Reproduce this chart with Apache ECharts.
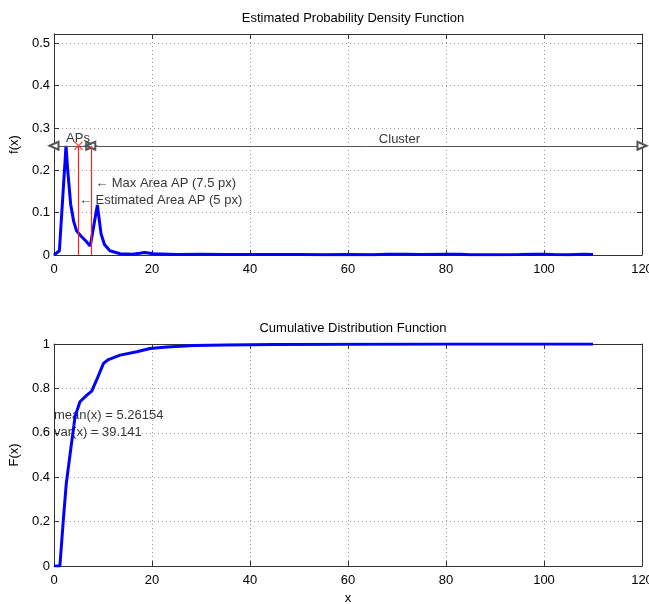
<!DOCTYPE html>
<html>
<head>
<meta charset="utf-8">
<script src="https://cdn.jsdelivr.net/npm/echarts@6/dist/echarts.min.js"></script>
<style>
  html, body { margin: 0; padding: 0; background: #fff; }
  #chart { width: 649px; height: 604px; }
</style>
</head>
<body>
<div id="chart"></div>
<script>
// estimated pdf
const pdfX = [0, 1.1, 2.45, 2.8, 3.4, 4.0, 4.6, 5.5, 6.5, 7.4, 8.85, 9.6, 10.3, 11.4, 13.5, 16, 17.5, 18.5, 20.3, 25, 30, 35, 40, 45, 50, 55, 60, 65, 68, 72, 75, 80, 83, 85, 90, 95, 98, 100, 102, 105, 108, 110]
const pdfY = [0, 0.01, 0.258, 0.2, 0.12, 0.08, 0.057, 0.045, 0.033, 0.021, 0.118, 0.05, 0.025, 0.01, 0.003, 0.002, 0.004, 0.006, 0.003, 0.001, 0.0015, 0.001, 0.001, 0.001, 0.001, 0.0005, 0.001, 0.0005, 0.002, 0.002, 0.001, 0.002, 0.002, 0.0005, 0.0005, 0.001, 0.002, 0.002, 0.001, 0.0005, 0.002, 0.001]

// cumulative distribution
const cdfX = [0, 1.2, 1.9, 2.5, 3.3, 4.3, 5.3, 6.7, 7.7, 8.7, 10.1, 11.1, 13.5, 16.9, 19.6, 23, 28.7, 35, 45, 60, 80, 110]
const cdfY = [0, 0, 0.207, 0.37, 0.507, 0.673, 0.74, 0.77, 0.788, 0.838, 0.913, 0.93, 0.95, 0.965, 0.98, 0.987, 0.993, 0.996, 0.998, 0.999, 1, 1]

// annotations
const apLevel = 0.258
const apMarks = [5, 7.5]
const spans = [[0, 7.5], [7.5, 120]]
const pdfNotes = ['\u2190 Max Area AP (7.5 px)', '\u2190 Estimated Area AP (5 px)']
const pdfNoteX = [8.4, 5.1]
const pdfNoteY = [0.168, 0.128]
const spanNames = ['APs', 'Cluster']
const spanNameX = [4.9, 70.5]
const spanNameY = [0.276, 0.273]
const cdfNotes = ['mean(x) = 5.26154', 'var(x) = 39.141']
const cdfNoteX = [0, 0]
const cdfNoteY = [0.68, 0.6]

const xTicks = [0, 20, 40, 60, 80, 100, 120]

const FONT = "'Liberation Sans', Arial, sans-serif"
const BOX = '#333'
const gridLine = { show: true, lineStyle: { color: '#999', type: [1, 3], width: 1 } }

function mainX(grid, name) {
  return {
    type: 'value', gridIndex: grid, min: xTicks[0], max: xTicks[xTicks.length - 1], interval: 20,
    name: name, nameLocation: 'middle', nameGap: 26,
    nameTextStyle: { color: '#000', fontSize: 13, fontFamily: FONT },
    axisLine: { show: true, onZero: false, lineStyle: { color: BOX } },
    axisTick: { show: true, inside: true, length: 5, lineStyle: { color: BOX } },
    axisLabel: { color: '#000', fontSize: 13, fontFamily: FONT, margin: 8 },
    splitLine: gridLine
  }
}
function boxX(grid) {
  return {
    type: 'value', gridIndex: grid, position: 'top', min: 0, max: 120, interval: 20,
    axisLine: { show: true, onZero: false, lineStyle: { color: BOX } },
    axisTick: { show: true, inside: true, length: 5, lineStyle: { color: BOX } },
    axisLabel: { show: false }, splitLine: { show: false }
  }
}
function mainY(grid, max, interval, name) {
  return {
    type: 'value', gridIndex: grid, min: 0, max: max, interval: interval,
    name: name, nameLocation: 'middle', nameGap: 24,
    nameTextStyle: { color: '#000', fontSize: 13, fontFamily: FONT },
    axisLine: { show: true, onZero: false, lineStyle: { color: BOX } },
    axisTick: { show: true, inside: true, length: 5, lineStyle: { color: BOX } },
    axisLabel: { color: '#000', fontSize: 13, fontFamily: FONT, margin: 4, showMaxLabel: max === 1 },
    splitLine: gridLine
  }
}
function boxY(grid, max, interval) {
  return {
    type: 'value', gridIndex: grid, position: 'right', min: 0, max: max, interval: interval,
    axisLine: { show: true, onZero: false, lineStyle: { color: BOX } },
    axisTick: { show: true, inside: true, length: 5, lineStyle: { color: BOX } },
    axisLabel: { show: false }, splitLine: { show: false }
  }
}
function textSeries(xi, yi, names, xs, ys, pos) {
  return {
    type: 'scatter', xAxisIndex: xi, yAxisIndex: yi, symbolSize: 0, silent: true,
    data: names.map((n, i) => ({ name: n, value: [xs[i], ys[i]] })),
    label: {
      show: true, position: pos, distance: 0, formatter: '{b}',
      color: '#000', fontSize: 13, fontFamily: FONT
    }
  }
}

const option = {
  animation: false,
  title: [
    { text: 'Estimated Probability Density Function', left: 348, textAlign: 'center', top: 7,
      textStyle: { fontSize: 13, fontWeight: 'normal', color: '#000', fontFamily: FONT } },
    { text: 'Cumulative Distribution Function', left: 348, textAlign: 'center', top: 317,
      textStyle: { fontSize: 13, fontWeight: 'normal', color: '#000', fontFamily: FONT } }
  ],
  grid: [
    { left: 54, right: 7, top: 34, height: 221, containLabel: false, outerBoundsMode: 'none' },
    { left: 54, right: 7, top: 344, height: 222, containLabel: false, outerBoundsMode: 'none' }
  ],
  xAxis: [mainX(0, ''), boxX(0), mainX(1, 'x'), boxX(1)],
  yAxis: [mainY(0, 0.522, 0.1, 'f(x)'), boxY(0, 0.522, 0.1), mainY(1, 1, 0.2, 'F(x)'), boxY(1, 1, 0.2)],
  series: [
    {
      type: 'line', xAxisIndex: 0, yAxisIndex: 0, symbol: 'none', silent: true,
      data: pdfX.map((x, i) => [x, pdfY[i]]),
      lineStyle: { color: '#0000ff', width: 3 }
    },
    {
      type: 'scatter', xAxisIndex: 0, yAxisIndex: 0, silent: true, symbolSize: 0,
      data: [[spans[0][0], apLevel]],
      markLine: {
        silent: true, symbol: ['emptyTriangle', 'emptyTriangle'], symbolSize: [8, 9],
        label: { show: false },
        lineStyle: { color: '#555', type: 'solid', width: 1 },
        data: spans.map(s => [{ coord: [s[0], apLevel] }, { coord: [s[1], apLevel] }])
      }
    },
    {
      type: 'line', xAxisIndex: 0, yAxisIndex: 0, symbol: 'none', silent: true,
      data: apMarks.map(v => [v, 0]), lineStyle: { width: 0 },
      markLine: {
        silent: true, symbol: ['none', 'none'], label: { show: false },
        lineStyle: { color: '#ff2020', type: 'solid', width: 1.2 },
        data: apMarks.map(v => [{ coord: [v, 0] }, { coord: [v, apLevel] }])
      }
    },
    {
      type: 'scatter', xAxisIndex: 0, yAxisIndex: 0, silent: true,
      symbol: 'path://M0,0L1,1M1,0L0,1', symbolSize: 8,
      itemStyle: { color: 'none', borderColor: '#ff2020', borderWidth: 1.2 },
      data: apMarks.map(v => [v, apLevel])
    },
    textSeries(0, 0, pdfNotes, pdfNoteX, pdfNoteY, 'right'),
    textSeries(0, 0, spanNames, spanNameX, spanNameY, 'inside'),
    {
      type: 'line', xAxisIndex: 2, yAxisIndex: 2, symbol: 'none', silent: true,
      data: cdfX.map((x, i) => [x, cdfY[i]]),
      lineStyle: { color: '#0000ff', width: 3 }
    },
    textSeries(2, 2, cdfNotes, cdfNoteX, cdfNoteY, 'right')
  ]
}

const chart = echarts.init(document.getElementById('chart'))
chart.setOption(option)
</script>
</body>
</html>
